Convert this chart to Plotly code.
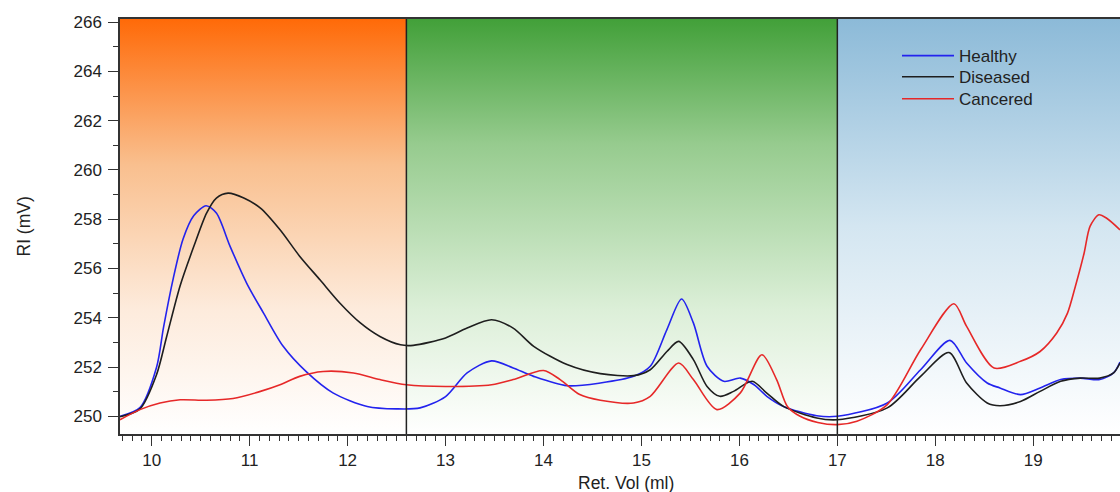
import plotly.graph_objects as go

# ---- data ----
healthy_x = [9.676, 9.88, 10.05, 10.12, 10.22, 10.32, 10.43, 10.555, 10.66, 10.80, 10.97, 11.14, 11.34,
             11.58, 11.85, 12.2, 12.5, 12.74, 13.0, 13.22, 13.47, 13.69, 13.9, 14.24, 14.58, 14.92, 15.09,
             15.26, 15.41, 15.53, 15.67, 15.84, 16.01, 16.15, 16.28, 16.45, 16.79, 17.0, 17.51, 17.85,
             18.15, 18.32, 18.53, 18.66, 18.87, 19.07, 19.28, 19.48, 19.68, 19.82, 19.886]
healthy_y = [250.0, 250.35, 252.0, 253.6, 255.6, 257.2, 258.15, 258.55, 258.25, 256.9, 255.4, 254.2, 252.85,
             251.8, 250.95, 250.4, 250.3, 250.34, 250.8, 251.76, 252.25, 251.96, 251.62, 251.24, 251.35,
             251.62, 252.03, 253.52, 254.76, 253.79, 252.03, 251.42, 251.55, 251.28, 250.81, 250.4, 250.02,
             250.0, 250.54, 251.89, 253.08, 252.16, 251.35, 251.15, 250.88, 251.15, 251.49, 251.55, 251.49,
             251.76, 252.2]

diseased_x = [9.676, 9.88, 10.05, 10.15, 10.29, 10.43, 10.56, 10.66, 10.78, 10.94, 11.11, 11.31, 11.51,
              11.72, 11.92, 12.13, 12.33, 12.54, 12.67, 13.0, 13.22, 13.47, 13.69, 13.9, 14.24, 14.58,
              14.92, 15.09, 15.26, 15.38, 15.53, 15.67, 15.80, 15.94, 16.13, 16.28, 16.45, 16.79, 17.0,
              17.51, 17.85, 18.14, 18.32, 18.53, 18.66, 18.87, 19.07, 19.28, 19.48, 19.68, 19.82, 19.886]
diseased_y = [249.98, 250.3, 251.7, 253.2, 255.3, 256.9, 258.25, 258.86, 259.06, 258.86, 258.45, 257.57,
              256.5, 255.53, 254.6, 253.79, 253.24, 252.9, 252.88, 253.18, 253.58, 253.92, 253.58, 252.84,
              252.1, 251.73, 251.65, 251.89, 252.63, 253.04, 252.3, 251.21, 250.81, 251.01, 251.42, 250.94,
              250.4, 249.93, 249.86, 250.34, 251.62, 252.59, 251.35, 250.54, 250.43, 250.6, 251.01, 251.42,
              251.55, 251.55, 251.76, 252.16]

cancered_x = [9.676, 9.88, 10.085, 10.29, 10.56, 10.83, 11.11, 11.31, 11.51, 11.75, 12.06, 12.33, 12.6,
              13.0, 13.47, 13.69, 14.0, 14.17, 14.37, 14.58, 14.92, 15.09, 15.38, 15.53, 15.77, 16.01,
              16.23, 16.38, 16.49, 16.62, 16.8, 17.0, 17.2, 17.51, 17.85, 18.19, 18.32, 18.6, 18.87, 19.07,
              19.24, 19.35, 19.43, 19.52, 19.58, 19.67, 19.75, 19.886]
cancered_y = [249.86, 250.27, 250.54, 250.67, 250.65, 250.72, 251.01, 251.28, 251.62, 251.82, 251.76,
              251.49, 251.28, 251.21, 251.28, 251.49, 251.86, 251.49, 250.88, 250.65, 250.54, 250.81,
              252.16, 251.49, 250.27, 250.95, 252.5, 251.49, 250.4, 250.0, 249.75, 249.66, 249.8, 250.47,
              252.7, 254.57, 253.65, 251.96, 252.23, 252.63, 253.38, 254.19, 255.27, 256.63, 257.71,
              258.18, 258.04, 257.57]

region_bounds = [9.676, 12.6, 17.0, 19.886]
region_scales = [
    [[0, "#FFFFFF"], [0.3, "#FDEBDC"], [0.65, "#F9BF8E"], [1, "#FF6A08"]],
    [[0, "#FFFFFF"], [0.3, "#DCEFD8"], [0.7, "#96CB8E"], [1, "#42A039"]],
    [[0, "#FFFFFF"], [0.5, "#D4E6F1"], [1, "#8CBAD8"]],
]
x_range = [9.676, 19.886]
y_range = [249.28, 266.13]

fig = go.Figure()

# gradient background regions
for i, cs in enumerate(region_scales):
    x0, x1 = region_bounds[i], region_bounds[i + 1]
    fig.add_trace(go.Scatter(
        x=[x0, x1, x1, x0, x0], y=[y_range[0], y_range[0], y_range[1], y_range[1], y_range[0]],
        mode="lines", line=dict(width=0), fill="toself",
        fillgradient=dict(type="vertical", colorscale=cs),
        showlegend=False, hoverinfo="skip"))

series = [("Healthy", healthy_x, healthy_y, "#2323EE", "legend"),
          ("Diseased", diseased_x, diseased_y, "#1E1E1E", "legend2"),
          ("Cancered", cancered_x, cancered_y, "#E62828", "legend3")]
for name, xs, ys, col, lg in series:
    fig.add_trace(go.Scatter(x=xs, y=ys, name=name, mode="lines", legend=lg,
                             line=dict(color=col, width=1.6, shape="spline", smoothing=0.8)))

for xv in region_bounds[1:3]:
    fig.add_shape(type="line", x0=xv, x1=xv, y0=y_range[0], y1=y_range[1],
                  line=dict(color="#222222", width=1.5), layer="above")

font = "Liberation Sans, Arial, sans-serif"
leg_common = dict(x=0.777, xanchor="left", yanchor="top", bgcolor="rgba(0,0,0,0)",
                  font=dict(size=17, color="#222222"), itemwidth=52)
fig.update_layout(
    width=1120, height=492,
    margin=dict(l=120, r=0, t=19, b=58),
    paper_bgcolor="white", plot_bgcolor="white",
    font=dict(family=font, size=17, color="#222222"),
    legend=dict(y=0.954, **leg_common),
    legend2=dict(y=0.903, **leg_common),
    legend3=dict(y=0.850, **leg_common),
    xaxis=dict(range=x_range, showgrid=False, zeroline=False, showline=True, linecolor="#333333",
               linewidth=1.5, mirror=True, ticks="outside", ticklen=10, tickwidth=1.2,
               tickcolor="#333333", tick0=10, dtick=1, ticklabelstandoff=0,
               tickfont=dict(size=17),
               minor=dict(ticks="outside", ticklen=5, dtick=0.1, tickcolor="#333333", tickwidth=1.2)),
    yaxis=dict(range=y_range, showgrid=False, zeroline=False, showline=True, linecolor="#333333",
               linewidth=1.5, ticks="outside", ticklen=10, tickwidth=1.2, tickcolor="#333333",
               tick0=250, dtick=2, ticklabelstandoff=3, tickfont=dict(size=17),
               minor=dict(ticks="outside", ticklen=5, dtick=1, tickcolor="#333333", tickwidth=1.2)),
    annotations=[
        dict(text="Ret. Vol (ml)", xref="paper", yref="paper", x=0.506, y=0, xanchor="center",
             yanchor="middle", yshift=-49, showarrow=False, font=dict(size=17.5, color="#222222")),
        dict(text="RI (mV)", xref="paper", yref="paper", x=0, y=0.5, xanchor="center",
             yanchor="middle", xshift=-97, textangle=-90, showarrow=False,
             font=dict(size=17.5, color="#222222")),
    ],
)

fig.write_html("out.html")
